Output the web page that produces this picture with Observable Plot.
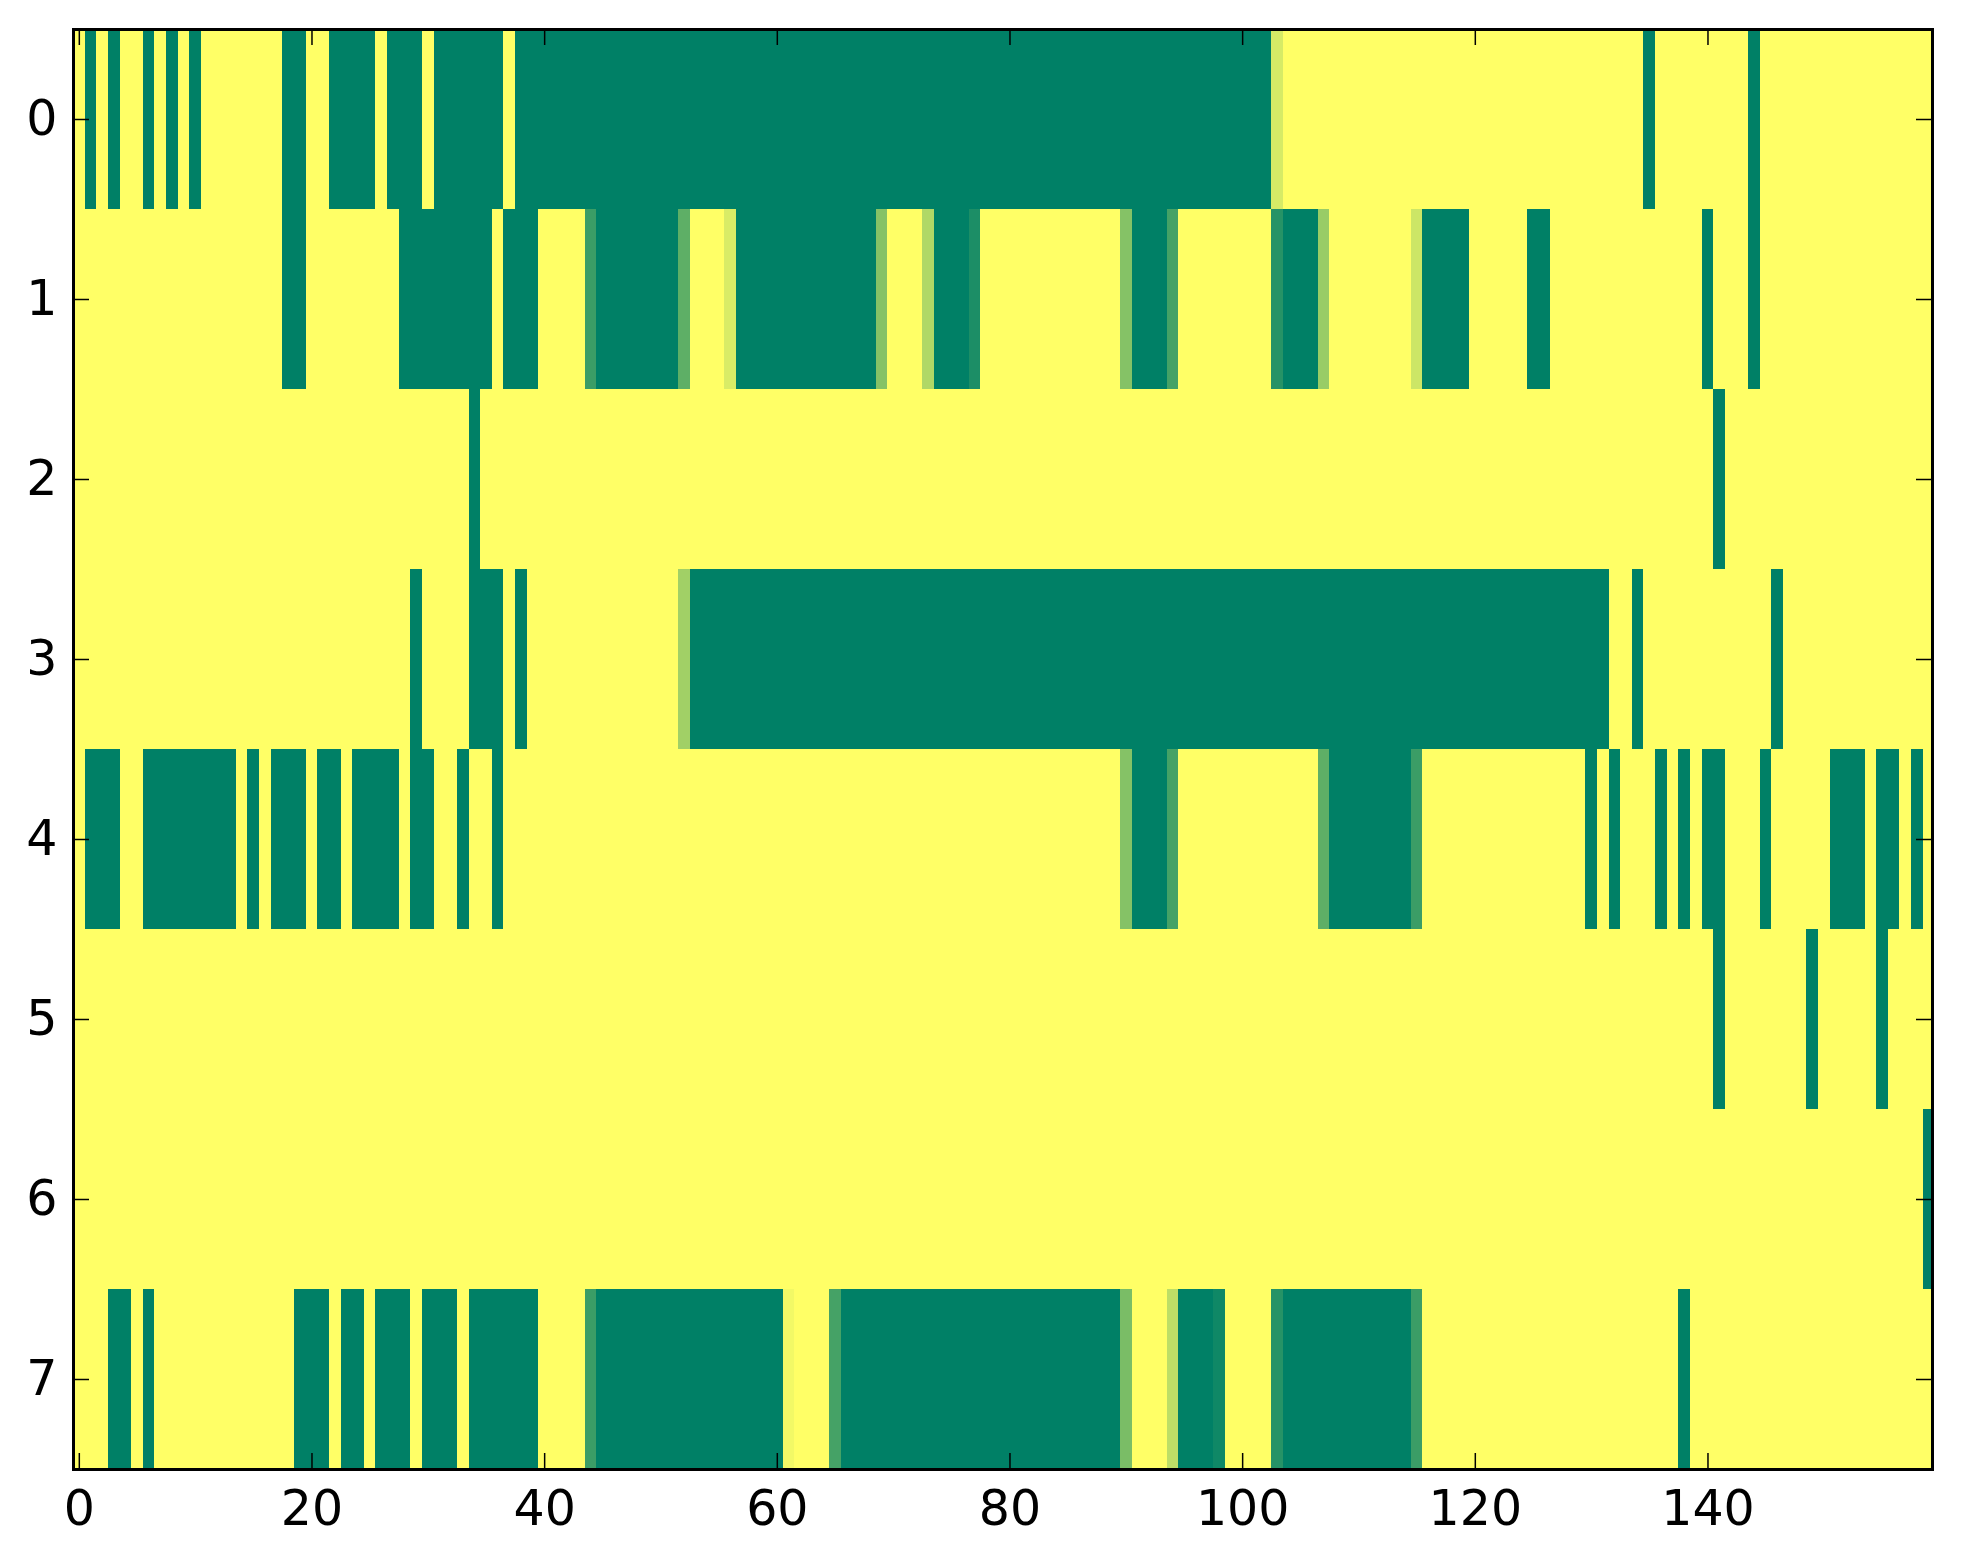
<!DOCTYPE html>
<html>
<head>
<meta charset="utf-8">
<script src="https://cdn.jsdelivr.net/npm/d3@7"></script>
<script src="https://cdn.jsdelivr.net/npm/@observablehq/plot@0.6"></script>
<style>
  body { margin: 0; background: white; }
</style>
</head>
<body>
<div id="chart"></div>
<script>
// one array per image row, 160 columns each (0 = green, 1 = yellow)
const row0 = [
  1,0,1,0,1,1,0,1,0,1, 0,1,1,1,1,1,1,1,0,0, 1,1,0,0,0,0,1,0,0,0, 1,0,0,0,0,0,0,1,0,0,
  0,0,0,0,0,0,0,0,0,0, 0,0,0,0,0,0,0,0,0,0, 0,0,0,0,0,0,0,0,0,0, 0,0,0,0,0,0,0,0,0,0,
  0,0,0,0,0,0,0,0,0,0, 0,0,0,0,0,0,0,0,0,0, 0,0,0,0.84,1,1,1,1,1,1, 1,1,1,1,1,1,1,1,1,1,
  1,1,1,1,1,1,1,1,1,1, 1,1,1,1,1,0,1,1,1,1, 1,1,1,1,0,1,1,1,1,1, 1,1,1,1,1,1,1,1,1,1
]
const row1 = [
  1,1,1,1,1,1,1,1,1,1, 1,1,1,1,1,1,1,1,0,0, 1,1,1,1,1,1,1,1,0,0, 0,0,0,0,0,0,1,0,0,0,
  1,1,1,1,0.23,0,0,0,0,0, 0,0,0.37,1,1,1,0.85,0,0,0, 0,0,0,0,0,0,0,0,0,0.52, 1,1,1,0.69,0,0,0,0.11,1,1,
  1,1,1,1,1,1,1,1,1,1, 0.52,0,0,0,0.27,1,1,1,1,1, 1,1,1,0.15,0,0,0,0.6,1,1, 1,1,1,1,1,0.8,0,0,0,0,
  1,1,1,1,1,0,0,1,1,1, 1,1,1,1,1,1,1,1,1,1, 0,1,1,1,0,1,1,1,1,1, 1,1,1,1,1,1,1,1,1,1
]
const row2 = [
  1,1,1,1,1,1,1,1,1,1, 1,1,1,1,1,1,1,1,1,1, 1,1,1,1,1,1,1,1,1,1, 1,1,1,1,0,1,1,1,1,1,
  1,1,1,1,1,1,1,1,1,1, 1,1,1,1,1,1,1,1,1,1, 1,1,1,1,1,1,1,1,1,1, 1,1,1,1,1,1,1,1,1,1,
  1,1,1,1,1,1,1,1,1,1, 1,1,1,1,1,1,1,1,1,1, 1,1,1,1,1,1,1,1,1,1, 1,1,1,1,1,1,1,1,1,1,
  1,1,1,1,1,1,1,1,1,1, 1,1,1,1,1,1,1,1,1,1, 1,0,1,1,1,1,1,1,1,1, 1,1,1,1,1,1,1,1,1,1
]
const row3 = [
  1,1,1,1,1,1,1,1,1,1, 1,1,1,1,1,1,1,1,1,1, 1,1,1,1,1,1,1,1,1,0, 1,1,1,1,0,0,0,1,0,1,
  1,1,1,1,1,1,1,1,1,1, 1,1,0.63,0,0,0,0,0,0,0, 0,0,0,0,0,0,0,0,0,0, 0,0,0,0,0,0,0,0,0,0,
  0,0,0,0,0,0,0,0,0,0, 0,0,0,0,0,0,0,0,0,0, 0,0,0,0,0,0,0,0,0,0, 0,0,0,0,0,0,0,0,0,0,
  0,0,0,0,0,0,0,0,0,0, 0,0,1,1,0,1,1,1,1,1, 1,1,1,1,1,1,0,1,1,1, 1,1,1,1,1,1,1,1,1,1
]
const row4 = [
  1,0,0,0,1,1,0,0,0,0, 0,0,0,0,1,0,1,0,0,0, 1,0,0,1,0,0,0,0,1,0, 0,1,1,0,1,1,0,1,1,1,
  1,1,1,1,1,1,1,1,1,1, 1,1,1,1,1,1,1,1,1,1, 1,1,1,1,1,1,1,1,1,1, 1,1,1,1,1,1,1,1,1,1,
  1,1,1,1,1,1,1,1,1,1, 0.52,0,0,0,0.27,1,1,1,1,1, 1,1,1,1,1,1,1,0.37,0,0, 0,0,0,0,0,0.23,1,1,1,1,
  1,1,1,1,1,1,1,1,1,1, 0,1,0,1,1,1,0,1,0,1, 0,0,1,1,1,0,1,1,1,1, 1,0,0,0,1,0,0,1,0,1
]
const row5 = [
  1,1,1,1,1,1,1,1,1,1, 1,1,1,1,1,1,1,1,1,1, 1,1,1,1,1,1,1,1,1,1, 1,1,1,1,1,1,1,1,1,1,
  1,1,1,1,1,1,1,1,1,1, 1,1,1,1,1,1,1,1,1,1, 1,1,1,1,1,1,1,1,1,1, 1,1,1,1,1,1,1,1,1,1,
  1,1,1,1,1,1,1,1,1,1, 1,1,1,1,1,1,1,1,1,1, 1,1,1,1,1,1,1,1,1,1, 1,1,1,1,1,1,1,1,1,1,
  1,1,1,1,1,1,1,1,1,1, 1,1,1,1,1,1,1,1,1,1, 1,0,1,1,1,1,1,1,1,0, 1,1,1,1,1,0,1,1,1,1
]
const row6 = [
  1,1,1,1,1,1,1,1,1,1, 1,1,1,1,1,1,1,1,1,1, 1,1,1,1,1,1,1,1,1,1, 1,1,1,1,1,1,1,1,1,1,
  1,1,1,1,1,1,1,1,1,1, 1,1,1,1,1,1,1,1,1,1, 1,1,1,1,1,1,1,1,1,1, 1,1,1,1,1,1,1,1,1,1,
  1,1,1,1,1,1,1,1,1,1, 1,1,1,1,1,1,1,1,1,1, 1,1,1,1,1,1,1,1,1,1, 1,1,1,1,1,1,1,1,1,1,
  1,1,1,1,1,1,1,1,1,1, 1,1,1,1,1,1,1,1,1,1, 1,1,1,1,1,1,1,1,1,1, 1,1,1,1,1,1,1,1,1,0
]
const row7 = [
  1,1,1,0,0,1,0,1,1,1, 1,1,1,1,1,1,1,1,1,0, 0,0,1,0,0,1,0,0,0,1, 0,0,0,1,0,0,0,0,0,0,
  1,1,1,1,0.23,0,0,0,0,0, 0,0,0,0,0,0,0,0,0,0, 0,0.95,1,1,1,0.27,0,0,0,0, 0,0,0,0,0,0,0,0,0,0,
  0,0,0,0,0,0,0,0,0,0, 0.48,1,1,1,0.74,0,0,0,0.06,1, 1,1,1,0.15,0,0,0,0,0,0, 0,0,0,0,0,0.23,1,1,1,1,
  1,1,1,1,1,1,1,1,1,1, 1,1,1,1,1,1,1,1,0,1, 1,1,1,1,1,1,1,1,1,1, 1,1,1,1,1,1,1,1,1,1
]
const rows = [row0, row1, row2, row3, row4, row5, row6, row7]
const xTicks = [0, 20, 40, 60, 80, 100, 120, 140]
const yTicks = [0, 1, 2, 3, 4, 5, 6, 7]

const W = 1963, H = 1564
const mL = 73, mR = 31, mT = 29, mB = 95
const frameW = W - mL - mR, frameH = H - mT - mB
const tick = 16

let cells = rows.flatMap((r, i) => r.map((v, j) => ({row: i, col: j, value: v})))

let chart = Plot.plot({
  width: W,
  height: H,
  marginLeft: mL,
  marginRight: mR,
  marginTop: mT,
  marginBottom: mB,
  style: {
    fontFamily: "DejaVu Sans",
    fontSize: "49px",
    color: "black",
    background: "white"
  },
  x: { type: "linear", domain: [-0.5, 159.3], axis: null },
  y: { type: "linear", domain: [-0.5, 7.5], reverse: true, axis: null },
  color: { type: "linear", domain: [0, 1], range: ["#008066", "#ffff66"], interpolate: "rgb" },
  marks: [
    Plot.rect(cells, {
      x1: d => d.col - 0.5,
      x2: d => d.col + 0.5,
      y1: d => d.row - 0.5,
      y2: d => d.row + 0.5,
      fill: "value",
      clip: true,
      shapeRendering: "crispEdges"
    }),
    // inward ticks on all four sides
    Plot.tickX(xTicks, { x: d => d, insetTop: frameH - tick, stroke: "black", strokeWidth: 1.5 }),
    Plot.tickX(xTicks, { x: d => d, insetBottom: frameH - tick, stroke: "black", strokeWidth: 1.5 }),
    Plot.tickY(yTicks, { y: d => d, insetRight: frameW - tick, stroke: "black", strokeWidth: 1.5 }),
    Plot.tickY(yTicks, { y: d => d, insetLeft: frameW - tick, stroke: "black", strokeWidth: 1.5 }),
    Plot.axisX(xTicks, { anchor: "bottom", tickSize: 0, tickPadding: 21, fontSize: 49, label: null, tickFormat: d => d }),
    Plot.axisY(yTicks, { anchor: "left", tickSize: 0, tickPadding: 16, fontSize: 49, label: null, tickFormat: d => d }),
    Plot.frame({ stroke: "black", strokeWidth: 3 })
  ]
})
d3.select('#chart').append(() => chart)
</script>
</body>
</html>
